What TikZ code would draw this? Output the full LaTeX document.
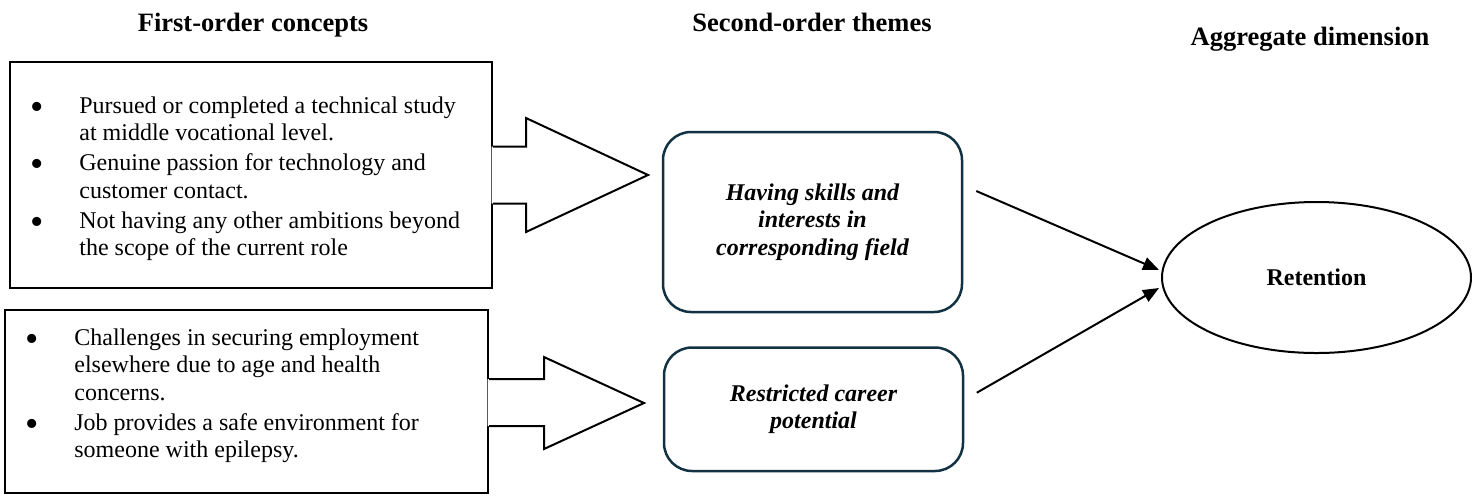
\documentclass[tikz,border=0pt]{standalone}
\usepackage{fontspec}
\setmainfont{Liberation Serif}
\usetikzlibrary{shapes.geometric,arrows.meta,calc}
\definecolor{themeline}{RGB}{18,50,68}
% bullet column of the concept lists
\newcommand\bulletcell{\hbox to 25pt{\hskip 0.7pt\raisebox{-3pt}{\fontsize{19}{19}\selectfont\textbullet}\hss}}
\begin{document}
\begin{tikzpicture}[x=0.5pt,y=-0.5pt,
  txt/.style={font=\fontsize{12}{13.75}\selectfont, inner sep=0pt},
  header/.style={inner sep=0pt, font=\fontsize{13.25}{15}\selectfont\bfseries},
  conceptbox/.style={draw=black, line width=1pt, inner sep=0pt},
  blockarrow/.style={draw=black, line width=1pt, line join=miter},
  themebox/.style={draw=themeline, line width=1.25pt, rounded corners=14pt, inner sep=0pt,
    font=\fontsize{12}{13.75}\selectfont\bfseries\itshape},
  dimension/.style={ellipse, draw=black, line width=1pt, inner sep=0pt,
    font=\fontsize{12}{13.75}\selectfont\bfseries},
  link/.style={line width=1pt, -{Triangle[length=8pt,width=6.5pt]}}
]
\useasboundingbox (0,0) rectangle (1472,495);

% column headers
\node[header, anchor=base] (h1) at (253,31) {First-order concepts};
\node[header, anchor=base] (h2) at (812,31) {Second-order themes};
\node[header, anchor=base] (h3) at (1310,45) {Aggregate dimension};

% first-order concept boxes
\node[conceptbox, minimum width=241pt, minimum height=113pt] (c1) at (251,175) {};
\node[conceptbox, minimum width=241.5pt, minimum height=91.5pt] (c2) at (246.5,401.5) {};

\node[txt, anchor=north west] (c1txt) at (29,93.75) {%
  \begin{tabular}{@{}l@{}l@{}}
  \bulletcell & Pursued or completed a technical study\\
              & at middle vocational level.\\[1.25pt]
  \bulletcell & Genuine passion for technology and\\
              & customer contact.\\[1.25pt]
  \bulletcell & Not having any other ambitions beyond\\
              & the scope of the current role
  \end{tabular}};

\node[txt, anchor=north west] (c2txt) at (24,325.75) {%
  \begin{tabular}{@{}l@{}l@{}}
  \bulletcell & Challenges in securing employment\\
              & elsewhere due to age and health\\
              & concerns.\\[1.25pt]
  \bulletcell & Job provides a safe environment for\\
              & someone with epilepsy.
  \end{tabular}};

% block arrows leaving the concept boxes
\begin{scope}[shift={(c1.east)}]
  \fill[white] (-1.5,-28.5) -- (33,-28.5) -- (33,-57) -- (155,0) -- (33,57) -- (33,28.5) -- (-1.5,28.5) -- cycle;
  \draw[blockarrow] (0,-28.5) -- (33,-28.5) -- (33,-57) -- (155,0) -- (33,57) -- (33,28.5) -- (0,28.5);
\end{scope}
\begin{scope}[shift={(c2.east)}]
  \fill[white] (-1.5,-22.5) -- (55,-22.5) -- (55,-44.5) -- (155,1.5) -- (55,47.5) -- (55,24.5) -- (-1.5,24.5) -- cycle;
  \draw[blockarrow] (0,-22.5) -- (55,-22.5) -- (55,-44.5) -- (155,1.5) -- (55,47.5) -- (55,24.5) -- (0,24.5);
\end{scope}

% second-order themes
\node[themebox, minimum width=149.5pt, minimum height=90pt] (t1) at (812.5,222) {%
  \begin{tabular}{@{}c@{}}Having skills and\\ interests in\\ corresponding field\end{tabular}};
\node[themebox, minimum width=149.5pt, minimum height=61.75pt] (t2) at (813.5,409.25) {%
  \begin{tabular}{@{}c@{}}Restricted career\\ potential\end{tabular}};

% aggregate dimension
\node[dimension, minimum width=154.5pt, minimum height=75.5pt] (ret) at (1316.5,277.5) {Retention};

% links from themes to the dimension
\coordinate (l1s) at ($(t1.east)+(13,-31)$);
\coordinate (l1e) at ($(ret.west)+(-2,-7.5)$);
\coordinate (l2s) at ($(t2.east)+(12.5,-16.5)$);
\coordinate (l2e) at ($(ret.west)+(-2,10.5)$);
\draw[link] (l1s) -- (l1e);
\draw[link] (l2s) -- (l2e);
\end{tikzpicture}
\end{document}
